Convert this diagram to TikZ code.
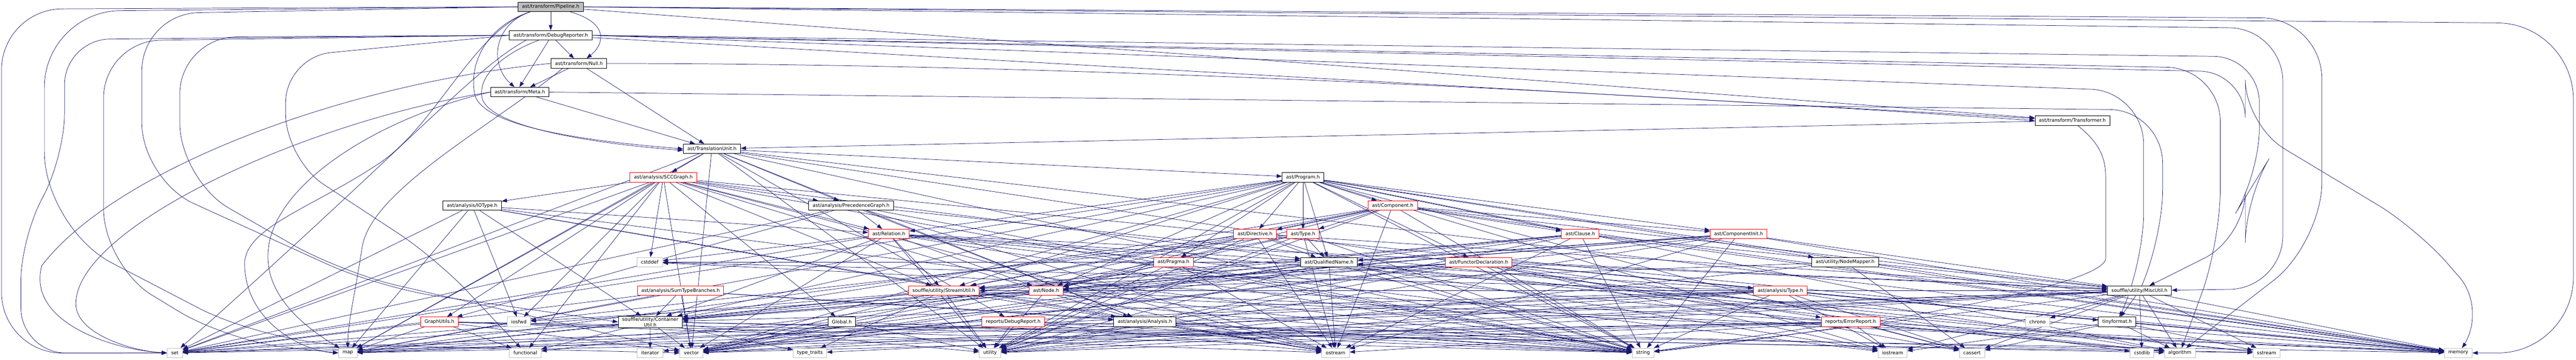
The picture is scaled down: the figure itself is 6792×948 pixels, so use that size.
\documentclass[tikz,border=0pt]{standalone}
\usepackage{fontspec}
\setmainfont{DejaVu Sans}
\usetikzlibrary{arrows.meta,backgrounds}
\definecolor{navy}{HTML}{191970}
\definecolor{gry}{HTML}{BFBFBF}
\begin{document}
\begin{tikzpicture}[x=1pt,y=-1pt,
 box/.style={rectangle, draw, fill=white, font=\fontsize{12.6}{14.5}\selectfont, inner xsep=10.5pt, inner ysep=2pt, minimum height=25pt, line width=1.1pt},
 sysn/.style={box, draw=gry},
 redn/.style={box, draw=red},
 blkn/.style={box, draw=black},
 rootn/.style={box, draw=black, fill=gry},
 e/.style={draw=navy, line width=1pt, -{Triangle[length=14pt,width=10pt]}},
 rc/.style={e, rounded corners=#1},
]
\useasboundingbox (0,0) rectangle (6792,948);
% ---------------- nodes
\node[rootn] (pipe) at (1452,18) {ast/transform/Pipeline.h};
\node[blkn] (debugrep) at (1452,93) {ast/transform/DebugReporter.h};
\node[blkn] (null) at (1526.5,167) {ast/transform/Null.h};
\node[blkn] (meta) at (1370.5,242.5) {ast/transform/Meta.h};
\node[blkn] (transformer) at (5464,317.5) {ast/transform/Transformer.h};
\node[blkn] (tu) at (1877,392) {ast/TranslationUnit.h};
\node[redn] (scc) at (1749,467) {ast/analysis/SCCGraph.h};
\node[blkn] (program) at (3435.5,467) {ast/Program.h};
\node[blkn] (iotype) at (1245,541.5) {ast/analysis/IOType.h};
\node[blkn] (precg) at (2244,541.5) {ast/analysis/PrecedenceGraph.h};
\node[redn] (component) at (3672,541.5) {ast/Component.h};
\node[redn] (relation) at (2343.5,616) {ast/Relation.h};
\node[redn] (directive) at (3309,616) {ast/Directive.h};
\node[redn] (type) at (3435.5,616) {ast/Type.h};
\node[redn] (clause) at (4166.5,616) {ast/Clause.h};
\node[redn] (compinit) at (4584,616) {ast/ComponentInit.h};
\node[sysn] (cstddef) at (1713,690.5) {cstddef};
\node[redn] (pragma) at (3094,690.5) {ast/Pragma.h};
\node[blkn] (qualname) at (3504,690.5) {ast/QualifiedName.h};
\node[redn] (functor) at (3898.5,690.5) {ast/FunctorDeclaration.h};
\node[blkn] (nodemapper) at (4865,690.5) {ast/utility/NodeMapper.h};
\node[redn] (sumtype) at (1794.5,765.5) {ast/analysis/SumTypeBranches.h};
\node[redn] (streamutil) at (2488.5,765.5) {souffle/utility/StreamUtil.h};
\node[redn] (astnode) at (2758,765.5) {ast/Node.h};
\node[redn] (atype) at (4694,765.5) {ast/analysis/Type.h};
\node[blkn] (miscutil) at (5641,765.5) {souffle/utility/MiscUtil.h};
\node[blkn,align=center,inner ysep=3pt] (containerutil) at (1714.5,848) {souffle/utility/Container\\Util.h};
\node[redn] (graphutils) at (1158.5,847.5) {GraphUtils.h};
\node[sysn] (iosfwd) at (1368,847.5) {iosfwd};
\node[blkn] (global) at (2219.5,847.5) {Global.h};
\node[redn] (debugreport) at (2671.5,847.5) {reports/DebugReport.h};
\node[blkn] (analysis) at (3018.5,847.5) {ast/analysis/Analysis.h};
\node[redn] (errorreport) at (4879.5,847.5) {reports/ErrorReport.h};
\node[sysn] (chrono) at (5372,847.5) {chrono};
\node[blkn] (tinyformat) at (5582,847.5) {tinyformat.h};
\node[sysn] (set) at (461,929.5) {set};
\node[sysn] (map) at (917,929.5) {map};
\node[sysn] (functional) at (1385,929.5) {functional};
\node[sysn] (iterator) at (1714,929.5) {iterator};
\node[sysn] (vector) at (1823,929.5) {vector};
\node[sysn] (typetraits) at (2135.5,929.5) {type\_traits};
\node[sysn] (utility) at (2610.5,929.5) {utility};
\node[sysn] (ostream) at (3521.5,929.5) {ostream};
\node[sysn] (string) at (4332,929.5) {string};
\node[sysn] (iostream) at (4990,929.5) {iostream};
\node[sysn] (cassert) at (5199.5,929.5) {cassert};
\node[sysn] (cstdlib) at (5647.5,929.5) {cstdlib};
\node[sysn] (algorithm) at (5747.5,929.5) {algorithm};
\node[sysn] (sstream) at (5976,929.5) {sstream};
\node[sysn] (memory) at (6481.5,929.5) {memory};
% ---------------- edges
\begin{pgfonlayer}{background}
% top part
\draw[e] (pipe) -- (debugrep);
\draw[e] ([xshift=51pt]pipe.south) .. controls (1605,60) and (1595,115) .. ([xshift=20pt]null.north);
\draw[e] ([xshift=-54pt]pipe.south) .. controls (1300,65) and (1290,170) .. ([xshift=-14pt]meta.north);
\draw[e] ([xshift=-54pt]pipe.south) .. controls (1280,70) and (1235,170) .. (1252,250) .. controls (1275,335) and (1550,372) .. (tu.west);
\draw[e] ([xshift=-32pt]debugrep.south) .. controls (1330,140) and (1255,200) .. (1272,262) .. controls (1300,335) and (1560,378) .. ([yshift=-4pt]tu.west);
\draw[e] (debugrep) -- (null);
\draw[e] ([xshift=-5pt]debugrep.south) -- ([xshift=-1pt]meta.north);
\draw[e] (null) -- (meta);
\draw[e] (null) -- (tu);
\draw[e] (meta) -- (tu);
\draw[e] (pipe) -- (transformer);
\draw[e] (debugrep) -- (transformer);
\draw[e] (null.east) .. controls (3000,168) and (4500,260) .. (transformer.west);
\draw[e] (transformer) -- (tu);
\draw[e] ([xshift=14pt]transformer.south) .. controls (5540,380) and (5552,420) .. (5552,470) -- (5552,680) .. controls (5552,760) and (4800,880) .. (string);
% routes round the left side
\draw[rc=160pt] (pipe.west) -- (4,24) -- (4,930) -- (set.west);
\draw[rc=200pt] (pipe.west) -- (117,30) -- (117,600) -- (700,903) -- (vector.west);
\draw[rc=150pt] (pipe.west) -- (374,36) -- (374,474) -- (1000,758) -- (containerutil.west);
\draw[e] ([xshift=-54pt]pipe.south) .. controls (1250,80) and (1150,330) .. (1000,430) .. controls (820,550) and (640,600) .. (645,700) .. controls (650,850) and (800,925) .. (map.west);
\draw[rc=120pt] (debugrep.west) -- (170,104) -- (170,420) -- (55,620) -- (55,930) -- (set.west);
\draw[rc=150pt] (debugrep.west) -- (273,108) -- (273,700) -- (600,898) -- (map.west);
\draw[rc=150pt] (debugrep.west) -- (474,98) -- (474,474) -- (900,718) -- (vector);
\draw[rc=120pt] (debugrep.west) -- (753,150) -- (753,420) -- (1150,680) -- (functional);
\draw[e] ([xshift=-65pt]debugrep.south) .. controls (1250,180) and (1080,380) .. (set);
\draw[e] (null.west) .. controls (900,220) and (300,450) .. (110,700) .. controls (70,850) and (300,922) .. (set.west);
\draw[e] ([xshift=-43pt]null.south) .. controls (1300,330) and (980,500) .. (955,650) .. controls (935,780) and (917,850) .. (map.north);
\draw[e] (meta.west) .. controls (800,320) and (200,600) .. (200,800) .. controls (200,880) and (350,925) .. (set.west);
\draw[e] (meta.west) .. controls (900,330) and (450,650) .. (map);
% routes round the right side
\draw[rc=200pt] (pipe.east) -- (6785,62) -- (6785,930) -- (memory.east);
\draw[rc=160pt] (pipe.east) -- (6122,48) -- (6122,640) -- (algorithm);
\draw[rc=140pt] (pipe.east) -- (6019,75) -- (6019,760) -- (miscutil);
\draw[rc=120pt] (debugrep.east) -- (5957,150) -- (5957,460) -- (5920,520) -- (5920,626) -- (miscutil);
\draw[rc=120pt] (debugrep.east) -- (5920,190) -- (5920,330) -- (6373,602) -- (6563,820) -- (memory);
\draw[rc=140pt] (debugrep.east) -- (5854,180) -- (5854,640) -- (algorithm);
\draw[rc=140pt] (debugrep.east) -- (5652,240) -- (5652,700) -- (tinyformat);
\draw[rc=140pt] (meta.east) -- (5702,290) -- (5702,640) -- (miscutil);
% middle and lower part
\foreach \tb in {program,analysis,precg,scc,debugreport,errorreport,map,memory,string,utility,set,vector} \draw[e] (tu) -- (\tb);
\foreach \tb in {iotype,precg,relation,qualname,analysis,graphutils,global,streamutil,cstddef,functional,map,memory,ostream,set,string,vector,iosfwd} \draw[e] (scc) -- (\tb);
\foreach \tb in {relation,analysis,containerutil,iosfwd,map,set,string,ostream} \draw[e] (iotype) -- (\tb);
\foreach \tb in {relation,analysis,graphutils,set,string,ostream,sstream} \draw[e] (precg) -- (\tb);
\foreach \tb in {astnode,qualname,containerutil,streamutil,miscutil,algorithm,cstddef,iostream,memory,set,string,utility,vector} \draw[e] (relation) -- (\tb);
\foreach \tb in {clause,component,compinit,directive,functor,astnode,pragma,qualname,relation,type,nodemapper,containerutil,streamutil,algorithm,cassert,iostream,map,memory,set,string,utility,vector} \draw[e] (program) -- (\tb);
\foreach \tb in {compinit,astnode,type,directive,clause,containerutil,miscutil,streamutil,memory,ostream,string,utility,vector} \draw[e] (component) -- (\tb);
\foreach \tb in {astnode,qualname,miscutil,streamutil,map,ostream,string,utility} \draw[e] (directive) -- (\tb);
\foreach \tb in {astnode,qualname,iosfwd,ostream,string,utility,vector} \draw[e] (type) -- (\tb);
\foreach \tb in {astnode,containerutil,miscutil,streamutil,memory,ostream,string,utility,vector} \draw[e] (clause) -- (\tb);
\foreach \tb in {astnode,qualname,containerutil,miscutil,streamutil,memory,ostream,string,utility,vector} \draw[e] (compinit) -- (\tb);
\foreach \tb in {astnode,ostream,string,utility} \draw[e] (pragma) -- (\tb);
\foreach \tb in {algorithm,cstddef,iostream,iterator,ostream,sstream,string,utility,vector} \draw[e] (qualname) -- (\tb);
\foreach \tb in {astnode,atype,containerutil,miscutil,streamutil,tinyformat,cassert,cstdlib,iostream,memory,string,utility,vector} \draw[e] (functor) -- (\tb);
\foreach \tb in {astnode,memory,cassert,utility} \draw[e] (nodemapper) -- (\tb);
\foreach \tb in {qualname,containerutil,miscutil,streamutil,algorithm,cassert,cstddef,iostream,map,memory,set,string,utility,vector} \draw[e] (atype) -- (\tb);
\foreach \tb in {analysis,containerutil,map,string,set,vector} \draw[e] (sumtype) -- (\tb);
\foreach \tb in {containerutil,map,memory,ostream,set,string,utility,vector,typetraits} \draw[e] (streamutil) -- (\tb);
\foreach \tb in {containerutil,functional,memory,ostream,string,utility,vector,iosfwd} \draw[e] (astnode) -- (\tb);
\foreach \tb in {algorithm,functional,iterator,map,memory,set,typetraits,utility,vector} \draw[e] (containerutil) -- (\tb);
\foreach \tb in {functional,map,ostream,set,sstream,string,vector} \draw[e] (graphutils) -- (\tb);
\foreach \tb in {map,string,vector,utility} \draw[e] (global) -- (\tb);
\foreach \tb in {utility,string,vector,sstream,ostream} \draw[e] (debugreport) -- (\tb);
\foreach \tb in {ostream,string} \draw[e] (analysis) -- (\tb);
\foreach \tb in {algorithm,cassert,cstddef,iostream,map,memory,set,string,utility,vector,ostream} \draw[e] (errorreport) -- (\tb);
\foreach \tb in {tinyformat,algorithm,cassert,chrono,cstdlib,iostream,memory,typetraits,utility,sstream,map,set,string,vector} \draw[e] (miscutil) -- (\tb);
\foreach \tb in {algorithm,cassert,iostream,sstream,memory} \draw[e] (tinyformat) -- (\tb);
\end{pgfonlayer}
\end{tikzpicture}
\end{document}
